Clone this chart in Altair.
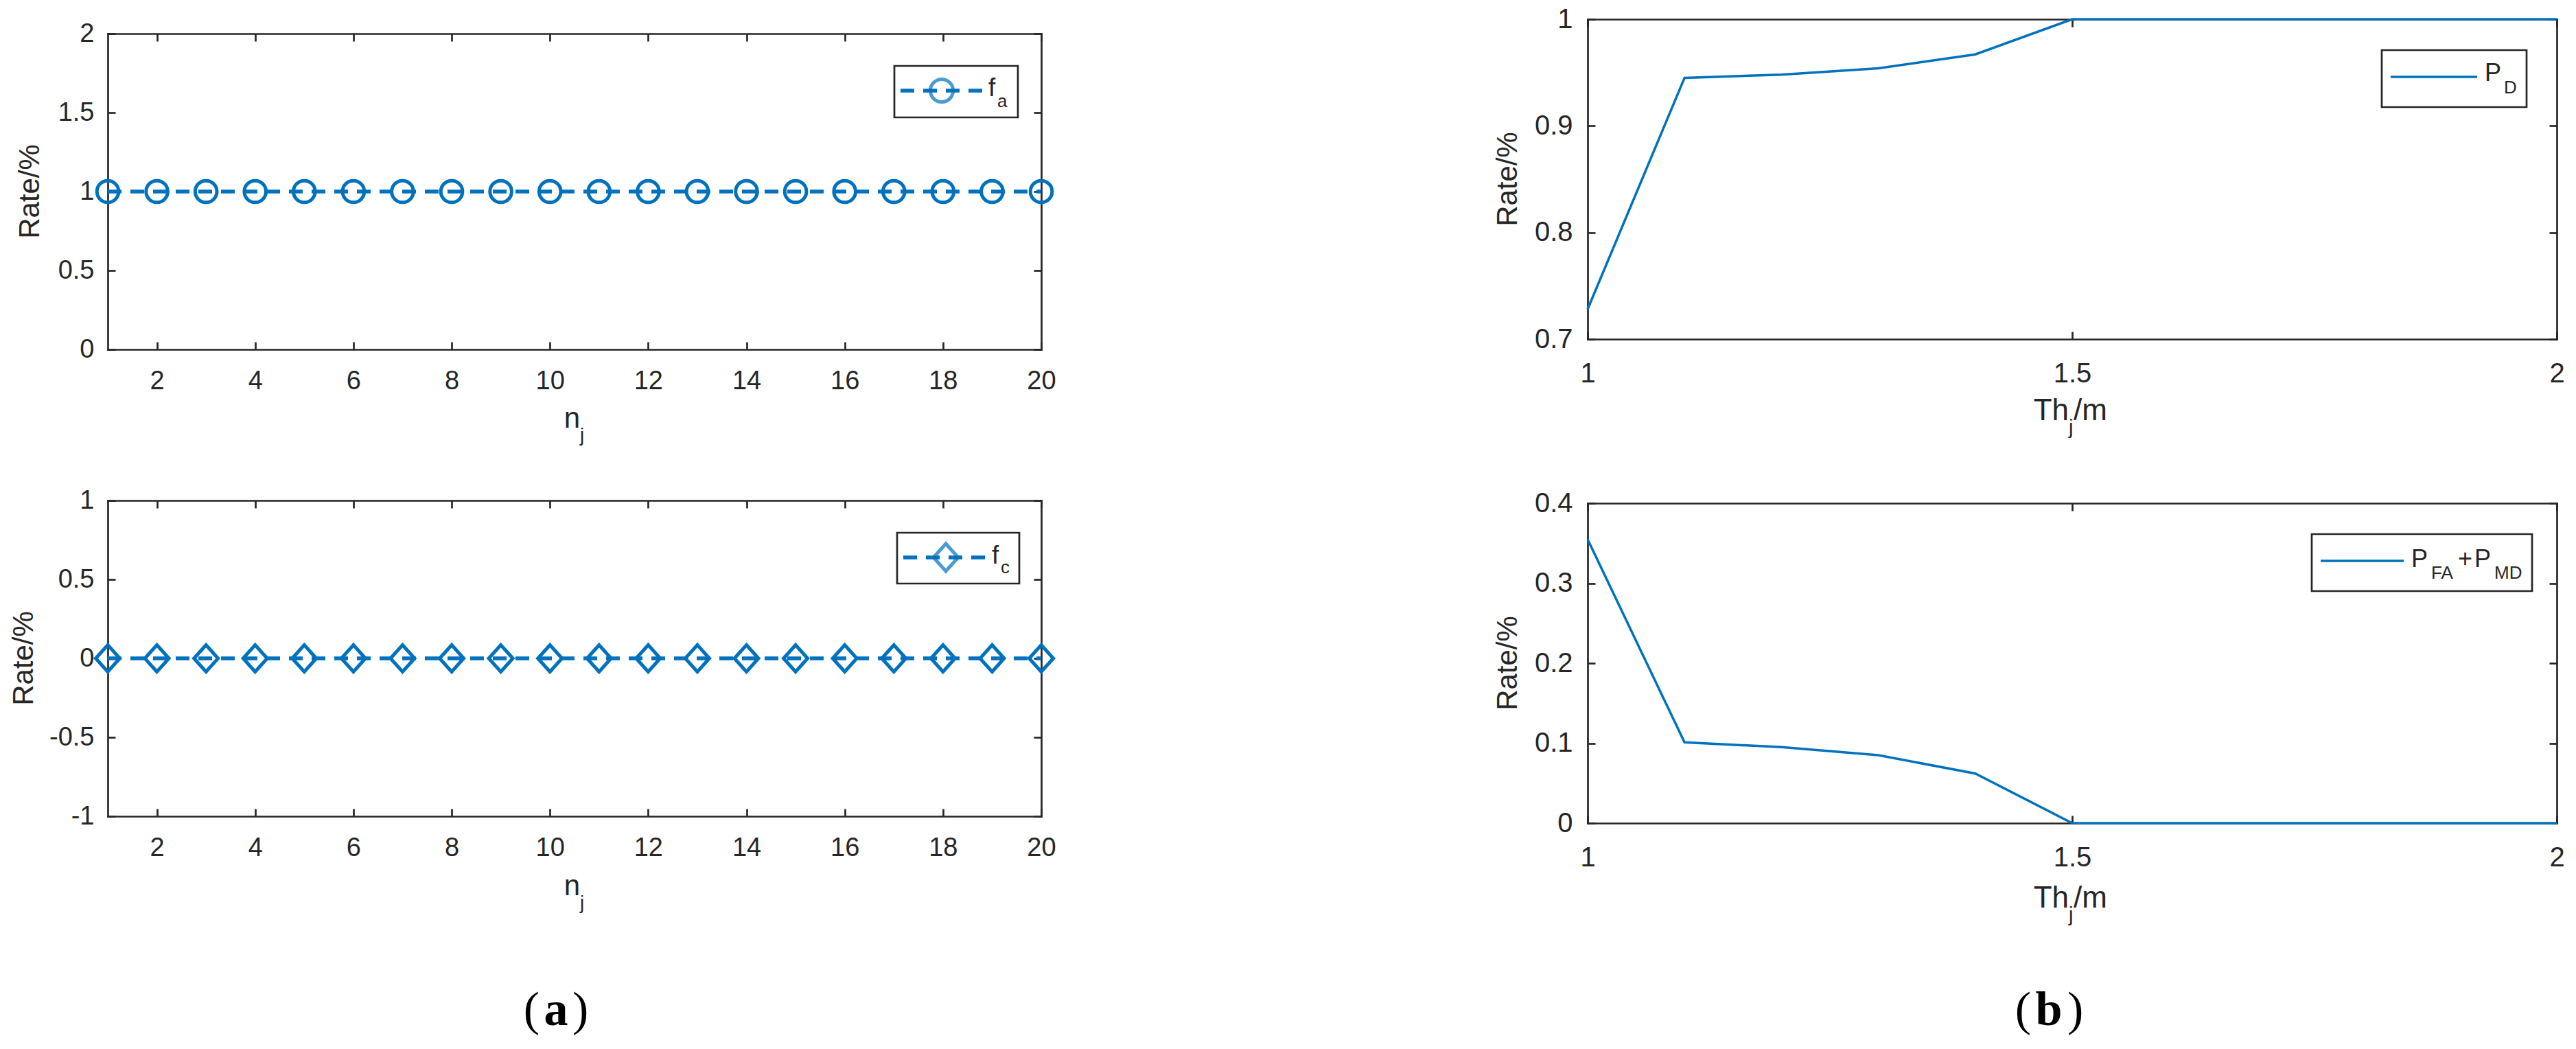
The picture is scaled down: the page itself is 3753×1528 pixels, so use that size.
import altair as alt
import pandas as pd

# ---------------- data ----------------
n_j = [1, 2, 3, 4, 5, 6, 7, 8, 9, 10, 11, 12, 13, 14, 15, 16, 17, 18, 19, 20]
f_a = [1, 1, 1, 1, 1, 1, 1, 1, 1, 1, 1, 1, 1, 1, 1, 1, 1, 1, 1, 1]
f_c = [0, 0, 0, 0, 0, 0, 0, 0, 0, 0, 0, 0, 0, 0, 0, 0, 0, 0, 0, 0]

th_j = [1.0, 1.1, 1.2, 1.3, 1.4, 1.5, 1.6, 1.7, 1.8, 1.9, 2.0]
p_d = [0.728, 0.945, 0.948, 0.954, 0.967, 1.0, 1.0, 1.0, 1.0, 1.0, 1.0]
p_fa_md = [0.355, 0.101, 0.095, 0.085, 0.062, 0.0, 0.0, 0.0, 0.0, 0.0, 0.0]

x_ticks_a = [2, 4, 6, 8, 10, 12, 14, 16, 18, 20]
y_ticks_fa = [0, 0.5, 1, 1.5, 2]
y_ticks_fc = [-1, -0.5, 0, 0.5, 1]
x_ticks_b = [1, 1.5, 2]
y_ticks_pd = [0.7, 0.8, 0.9, 1.0]
y_ticks_pe = [0, 0.1, 0.2, 0.3, 0.4]

y_title = "Rate/%"
cap_a = ["(", "a", ")"]
cap_b = ["(", "b", ")"]

# ---------------- styling / layout ----------------
M = 8
W, H = 3737, 1505
FONT = "Liberation Sans"
SERIF = "Liberation Serif"
AXC = "#262626"
BLUE = "#0072BD"
LW = 2.7

LT = (157, 1517, 49, 509)
LB = (157, 1517, 729, 1189)
RT = (2313, 3725, 28, 494)
RB = (2313, 3725, 733, 1199)

df_a = pd.DataFrame({"n": n_j, "v": f_a})
df_c = pd.DataFrame({"n": n_j, "v": f_c})
df_pd = pd.DataFrame({"th": th_j, "v": p_d})
df_pe = pd.DataFrame({"th": th_j, "v": p_fa_md})
one = pd.DataFrame({"k": [0]})


def xs(dom, P):
    return alt.Scale(domain=dom, range=[P[0] - M, P[1] - M], nice=False, zero=False)


def ys(dom, P):
    return alt.Scale(domain=dom, range=[P[3] - M, P[2] - M], nice=False, zero=False)


def lab_axis(orient, offset, values, fs, pad):
    return alt.Axis(orient=orient, offset=offset, values=values, ticks=False, domain=False,
                    grid=False, labelFontSize=fs, labelFont=FONT, labelColor=AXC,
                    labelPadding=pad, labelFlush=False, labelOverlap=False,
                    labelExpr="'' + datum.value", title=None)


def frame_axis(orient, offset, values):
    return alt.Axis(orient=orient, offset=offset, values=values, labels=False, grid=False,
                    ticks=True, tickSize=11, tickWidth=LW, tickColor=AXC,
                    domain=True, domainWidth=LW, domainColor=AXC, domainCap="square",
                    title=None)


def frame_layers(df, xf, P, xdom, ydom, xv, yv, fs, xpad, ypad):
    x0, x1, yt, yb = P

    def X(axis):
        return alt.X(f"{xf}:Q", scale=xs(xdom, P), axis=axis)

    def Y(axis):
        return alt.Y("v:Q", scale=ys(ydom, P), axis=axis)

    base = alt.Chart(df).mark_point(opacity=0)
    f1 = base.encode(x=X(frame_axis("top", -(yb - M), xv)),
                     y=Y(frame_axis("right", (x0 - M) - W, yv)))
    f2 = base.encode(x=X(frame_axis("bottom", (yt - M) - H, xv)),
                     y=Y(frame_axis("left", -(x1 - M), yv)))
    lab = base.encode(x=X(lab_axis("bottom", (yb - M) - H, xv, fs, xpad)),
                      y=Y(lab_axis("left", -(x0 - M), yv, fs, ypad)))
    return [f1, f2, lab]


def data_enc(xf, P, xdom, ydom):
    return dict(x=alt.X(f"{xf}:Q", scale=xs(xdom, P), axis=None),
                y=alt.Y("v:Q", scale=ys(ydom, P), axis=None))


def txt(s, x, y, fs, align="left", baseline="alphabetic", angle=None, font=FONT,
        weight="normal", color=AXC):
    kw = dict(text=s, fontSize=fs, align=align, baseline=baseline, font=font,
              fontWeight=weight, color=color)
    if angle is not None:
        kw["angle"] = angle
    return alt.Chart(one).mark_text(**kw).encode(x=alt.value(x - M), y=alt.value(y - M))


def box(x0, y0, x1, y1):
    return alt.Chart(one).mark_rect(fill="white", stroke=AXC, strokeWidth=LW).encode(
        x=alt.value(x0 - M), x2=alt.value(x1 - M), y=alt.value(y0 - M), y2=alt.value(y1 - M))


def hline(x0, x1, y, width, dash=None):
    kw = dict(color=BLUE, strokeWidth=width)
    if dash:
        kw["strokeDash"] = dash
    return alt.Chart(one).mark_rule(**kw).encode(
        x=alt.value(x0 - M), x2=alt.value(x1 - M), y=alt.value(y - M))


def sym(x, y, shape, size):
    return alt.Chart(one).mark_point(shape=shape, filled=False, size=size, strokeWidth=5,
                                     color=BLUE).encode(x=alt.value(x - M), y=alt.value(y - M))


DASH = [20, 13]
DIAMOND = "M0,-1L0.9,0L0,1L-0.9,0Z"

layers = []
# ---- panel (a) top: f_a ----
layers += frame_layers(df_a, "n", LT, [1, 20], [0, 2], x_ticks_a, y_ticks_fa, 38, 27, 20)
enc = data_enc("n", LT, [1, 20], [0, 2])
layers.append(alt.Chart(df_a).mark_line(color=BLUE, strokeWidth=5.5, strokeDash=DASH).encode(**enc))
layers.append(alt.Chart(df_a).mark_point(shape="circle", filled=False, size=1000, strokeWidth=5,
                                         color=BLUE, opacity=1).encode(**enc))
# ---- panel (a) bottom: f_c ----
layers += frame_layers(df_c, "n", LB, [1, 20], [-1, 1], x_ticks_a, y_ticks_fc, 38, 27, 20)
enc = data_enc("n", LB, [1, 20], [-1, 1])
layers.append(alt.Chart(df_c).mark_line(color=BLUE, strokeWidth=5.5, strokeDash=DASH).encode(**enc))
layers.append(alt.Chart(df_c).mark_point(shape=DIAMOND, filled=False, size=1521, strokeWidth=5,
                                         color=BLUE, opacity=1).encode(**enc))
# ---- panel (b) top: P_D ----
layers += frame_layers(df_pd, "th", RT, [1, 2], [0.7, 1.0], x_ticks_b, y_ticks_pd, 40, 30, 22)
enc = data_enc("th", RT, [1, 2], [0.7, 1.0])
layers.append(alt.Chart(df_pd).mark_line(color=BLUE, strokeWidth=3.5).encode(**enc))
# ---- panel (b) bottom: P_FA + P_MD ----
layers += frame_layers(df_pe, "th", RB, [1, 2], [0, 0.4], x_ticks_b, y_ticks_pe, 40, 30, 22)
enc = data_enc("th", RB, [1, 2], [0, 0.4])
layers.append(alt.Chart(df_pe).mark_line(color=BLUE, strokeWidth=3.5).encode(**enc))

# ---- axis titles ----
layers += [
    txt(y_title, 57, 279, 42, align="center", angle=270),
    txt(y_title, 48, 959, 42, align="center", angle=270),
    txt(y_title, 2210, 261, 42, align="center", angle=270),
    txt(y_title, 2210, 966, 42, align="center", angle=270),
    txt("n", 845, 623, 42, align="right"), txt("j", 845, 643, 28),
    txt("n", 845, 1304, 42, align="right"), txt("j", 845, 1324, 28),
    txt("Th", 3014, 612, 44, align="right"), txt("j", 3014, 632, 29), txt("/m", 3021, 612, 44),
    txt("Th", 3014, 1322, 44, align="right"), txt("j", 3014, 1342, 29), txt("/m", 3021, 1322, 44),
]

# ---- legends ----
layers += [
    box(1303, 96, 1483, 171), hline(1312, 1432, 132, 5.5, DASH), sym(1372, 132, "circle", 1100),
    txt("f", 1440, 140, 37), txt("a", 1453, 156, 26),
    box(1307, 776, 1485, 850), hline(1316, 1436, 812, 5.5, DASH), sym(1378, 812, DIAMOND, 1600),
    txt("f", 1445, 821, 37), txt("c", 1458, 835, 26),
    box(3470, 73, 3681, 156), hline(3483, 3609, 112, 3.5),
    txt("P", 3620, 118, 36), txt("D", 3648, 136, 26),
    box(3368, 778, 3689, 861), hline(3381, 3502, 817, 3.5),
    txt("P", 3513, 826, 36), txt("FA", 3542, 843, 26), txt("+", 3581, 826, 36),
    txt("P", 3605, 826, 36), txt("MD", 3634, 843, 26),
]

# ---- captions ----
layers += [
    txt(cap_a[0], 786, 1493, 70, align="right", font=SERIF, color="#000000"),
    txt(cap_a[1], 810, 1493, 70, align="center", font=SERIF, weight="bold", color="#000000"),
    txt(cap_a[2], 834, 1493, 70, align="left", font=SERIF, color="#000000"),
    txt(cap_b[0], 2959, 1493, 70, align="right", font=SERIF, color="#000000"),
    txt(cap_b[1], 2985, 1493, 70, align="center", font=SERIF, weight="bold", color="#000000"),
    txt(cap_b[2], 3012, 1493, 70, align="left", font=SERIF, color="#000000"),
]

chart = alt.layer(*layers).resolve_scale(
    x="independent", y="independent"
).resolve_axis(
    x="independent", y="independent"
).properties(
    width=W, height=H, padding=0, autosize=alt.AutoSizeParams(type="none"),
    background="white"
).configure_view(strokeWidth=0, stroke="transparent")

chart.save("out.html", embed_options={"renderer": "svg", "actions": False})
